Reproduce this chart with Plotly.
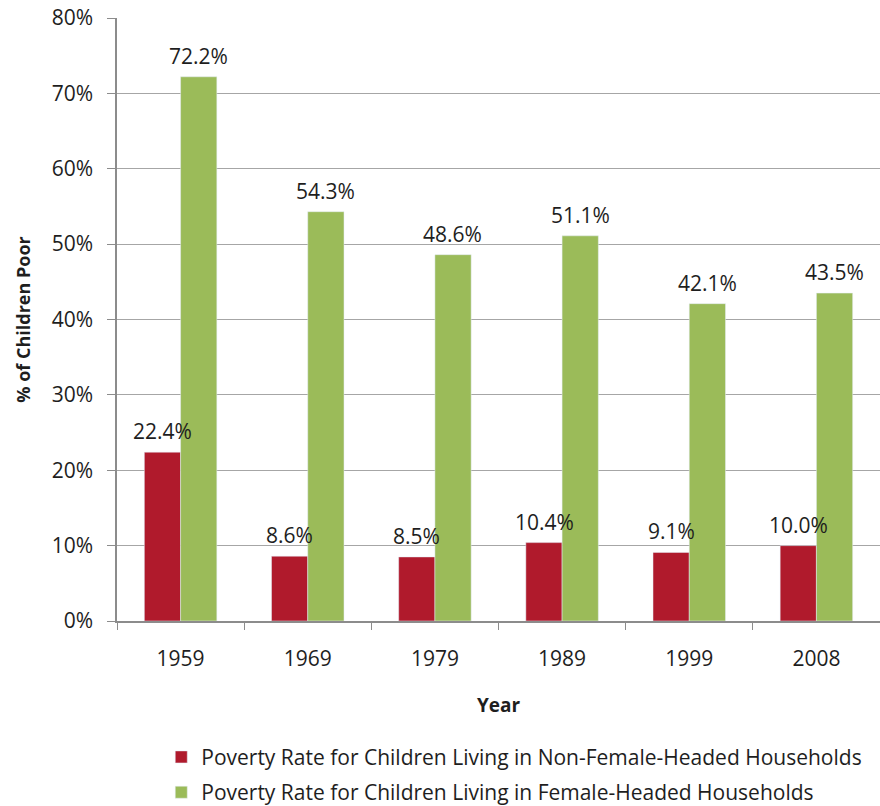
import plotly.graph_objects as go

years = ["1959", "1969", "1979", "1989", "1999", "2008"]
non_female = [22.4, 8.6, 8.5, 10.4, 9.1, 10.0]
female = [72.2, 54.3, 48.6, 51.1, 42.1, 43.5]
y_ticks = [0, 10, 20, 30, 40, 50, 60, 70, 80]
y_ticktext = [f"{v}%" for v in y_ticks]
names = ["Poverty Rate for Children Living in Non-Female-Headed Households",
         "Poverty Rate for Children Living in Female-Headed Households"]

RED = "#B01A2C"
GREEN = "#9BBB59"
FONT = "Open Sans"
TXT = "#1e1e1e"

fig = go.Figure()
fig.add_trace(go.Bar(x=years, y=non_female, name=names[0], marker_color=RED,
                     legendgroup="a"))
fig.add_trace(go.Bar(x=years, y=female, name=names[1], marker_color=GREEN,
                     legendgroup="b"))

# category index positions (annotations on category axes take indices)
for vals, shift in ((non_female, -18), (female, 18)):
    for i, v in enumerate(vals):
        fig.add_annotation(x=i, y=v, text=f"{v:.1f}%", showarrow=False,
                           xshift=shift, yshift=5, yanchor="bottom",
                           font=dict(family=FONT, size=21, color=TXT))

fig.update_layout(
    width=880, height=806,
    margin=dict(l=117, r=0, t=18, b=185, autoexpand=False),
    plot_bgcolor="white", paper_bgcolor="white",
    barmode="group", bargap=0.43, bargroupgap=0,
    font=dict(family=FONT, size=21, color=TXT),
    legend=dict(orientation="v", x=0.058, y=-0.192, xanchor="left", yanchor="top",
                traceorder="grouped", tracegroupgap=5,
                font=dict(family=FONT, size=21, color=TXT)),
    xaxis=dict(type="category", range=[-0.5, len(years) - 0.5], automargin=False,
               showline=True, linecolor="#8c8c8c", linewidth=1.5,
               ticks="outside", tickson="boundaries", ticklen=7, tickcolor="#8c8c8c",
               ticklabelstandoff=18,
               title=dict(text="<b>Year</b>", standoff=28,
                          font=dict(family=FONT, size=19))),
    yaxis=dict(range=[0, 80], tickvals=y_ticks, ticktext=y_ticktext, automargin=False,
               showline=True, linecolor="#8c8c8c", linewidth=1.5,
               ticks="outside", ticklen=8, tickcolor="#8c8c8c",
               showgrid=True, gridcolor="#a6a6a6", gridwidth=1.2,
               zeroline=False, ticklabelstandoff=10,
               title=dict(text="<b>% of Children Poor</b>", standoff=16,
                          font=dict(family=FONT, size=18))),
)

fig.write_html("out.html")
